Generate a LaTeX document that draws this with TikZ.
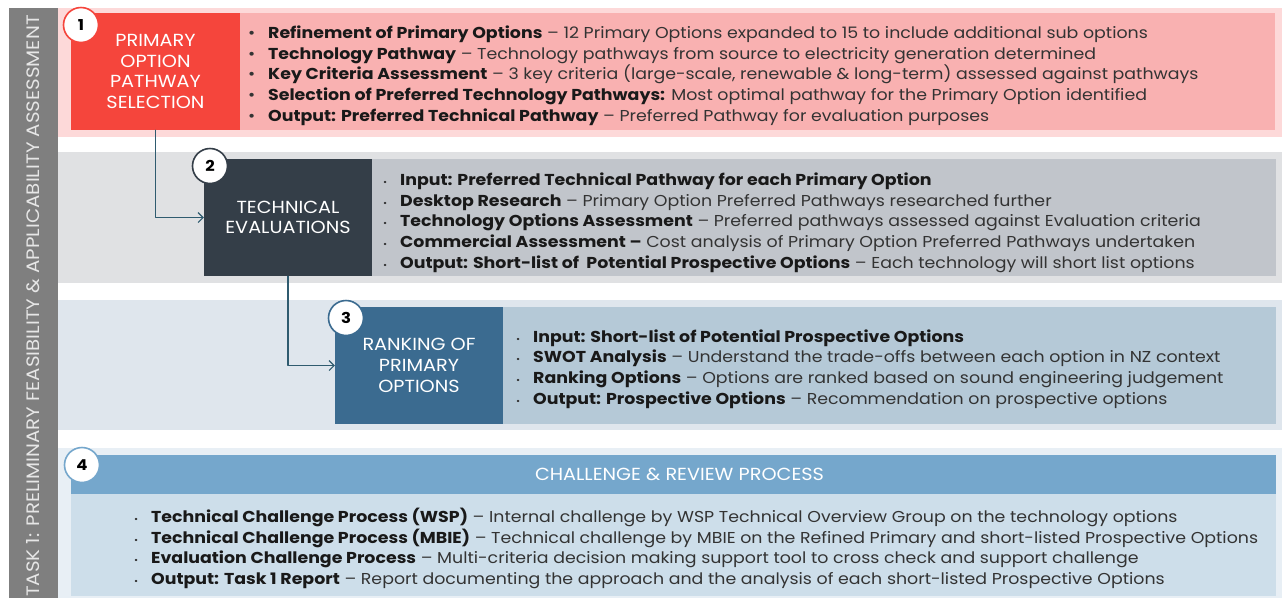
\documentclass[tikz,border=0pt]{standalone}
\usepackage{fontspec}
\setmainfont[FakeStretch=1.1]{Poppins}
\usetikzlibrary{arrows.meta}
\definecolor{sidegray}{HTML}{7F7F7F}
\definecolor{sidetext}{HTML}{E6E6E6}
\definecolor{redband}{HTML}{FDD9D9}
\definecolor{redlist}{HTML}{F9B1B1}
\definecolor{redbox}{HTML}{F5453C}
\definecolor{greyband}{HTML}{E0E1E3}
\definecolor{greylist}{HTML}{C1C5CB}
\definecolor{darkbox}{HTML}{343E48}
\definecolor{blueband}{HTML}{DFE6ED}
\definecolor{bluelist}{HTML}{B5C9D7}
\definecolor{bluebox}{HTML}{3B6B90}
\definecolor{paleband}{HTML}{E8EFF5}
\definecolor{palehead}{HTML}{75A7CC}
\definecolor{palelist}{HTML}{CDDEEA}
\definecolor{flowline}{HTML}{2F5B6F}
\definecolor{bodytext}{HTML}{333333}
\newcommand{\bigbul}[2]{\makebox[20pt][l]{\textbullet}{\color{black!90}\textbf{#1}}#2}
\newcommand{\smallbul}[2]{\makebox[17pt][l]{\fontsize{9}{9}\selectfont\textbullet}{\color{black!90}\textbf{#1}}#2}
\begin{document}
\begin{tikzpicture}[x=1pt, y=-1pt, line cap=round, line join=round,
    stage/.style={text=white, align=center, inner sep=0pt,
      minimum width=168pt, minimum height=117pt, font=\fontsize{17.5}{20.7}\selectfont},
    num/.style={circle, fill=white, line width=1.6pt, minimum size=35pt,
      inner sep=0pt, font=\fontsize{15}{15}\selectfont\bfseries},
    list/.style={anchor=west, align=left, inner sep=0pt, text=bodytext,
      font=\fontsize{15.8}{20.7}\selectfont},
    flow/.style={draw=flowline, line width=1.1pt, -{Straight Barb[length=5pt, width=10pt]}}]
  \useasboundingbox (0,0) rectangle (1282,598);
  \fill[sidegray] (9,8) rectangle (58,598);
  \node[rotate=90, text=sidetext, font=\fontsize{18}{18}\selectfont] (task) at (33.5,306) {TASK 1: PRELIMINARY FEASIBILITY \& APPLICABILITY ASSESSMENT};
  \fill[redband] (58,8) rectangle (1282,137);
  \fill[redlist] (240,13) rectangle (1275,130);
  \fill[greyband] (58,152) rectangle (1282,283);
  \fill[greylist] (372,159) rectangle (1276,276);
  \fill[blueband] (58,300) rectangle (1282,430);
  \fill[bluelist] (503,307) rectangle (1276,424);
  \fill[paleband] (58,448) rectangle (1282,598);
  \fill[palelist] (71,494) rectangle (1276,596);
  \node[stage, fill=redbox, minimum width=169pt] (sel) at (155.5,71.5) {PRIMARY\\OPTION\\PATHWAY\\SELECTION};
  \node[stage, fill=darkbox] (tech) at (288,217.5) {TECHNICAL\\EVALUATIONS};
  \node[stage, fill=bluebox] (rank) at (419,365.5) {RANKING OF\\PRIMARY\\OPTIONS};
  \node[stage, fill=palehead, minimum width=1205pt, minimum height=39pt,
    font=\fontsize{17.5}{17.5}\selectfont] (review) at (673.5,474.5) {\hspace{12pt}CHALLENGE \& REVIEW PROCESS};
  \node[num, draw=redbox] (n1) at (81,25) {1};
  \node[num, draw=darkbox] (n2) at (210,166) {2};
  \node[num, draw=bluebox] (n3) at (346,318) {3};
  \node[num, draw=palehead] (n4) at (82,465) {4};
  \draw[flow] (sel.south) |- (tech.west);
  \draw[flow] (tech.south) |- (rank.west);
  \node[list] (sellist) at (248,75.5) {%
    \bigbul{Refinement of Primary Options}{ -- 12 Primary Options expanded to 15 to include additional sub options}\\
    \bigbul{Technology Pathway}{ -- Technology pathways from source to electricity generation determined}\\
    \bigbul{Key Criteria Assessment}{ -- 3 key criteria (large-scale, renewable \& long-term) assessed against pathways}\\
    \bigbul{Selection of Preferred Technology Pathways:}{ Most optimal pathway for the Primary Option identified}\\
    \bigbul{Output: Preferred Technical Pathway}{ -- Preferred Pathway for evaluation purposes}};
  \node[list] (techlist) at (383,222.5) {%
    \smallbul{Input: Preferred Technical Pathway for each Primary Option}{}\\
    \smallbul{Desktop Research}{ -- Primary Option Preferred Pathways researched further}\\
    \smallbul{Technology Options Assessment}{ -- Preferred pathways assessed against Evaluation criteria}\\
    \smallbul{Commercial Assessment --}{ Cost analysis of Primary Option Preferred Pathways undertaken}\\
    \smallbul{Output: Short-list of\ \ Potential Prospective Options}{ -- Each technology will short list options}};
  \node[list] (ranklist) at (516,369) {%
    \smallbul{Input: Short-list of Potential Prospective Options}{}\\
    \smallbul{SWOT Analysis}{ -- Understand the trade-offs between each option in NZ context}\\
    \smallbul{Ranking Options}{ -- Options are ranked based on sound engineering judgement}\\
    \smallbul{Output: Prospective Options}{ -- Recommendation on prospective options}};
  \node[list] (reviewlist) at (134,548.5) {%
    \smallbul{Technical Challenge Process (WSP)}{ -- Internal challenge by WSP Technical Overview Group on the technology options}\\
    \smallbul{Technical Challenge Process (MBIE)}{ -- Technical challenge by MBIE on the Refined Primary and short-listed Prospective Options}\\
    \smallbul{Evaluation Challenge Process}{ -- Multi-criteria decision making support tool to cross check and support challenge}\\
    \smallbul{Output: Task 1 Report}{ -- Report documenting the approach and the analysis of each short-listed Prospective Options}};
\end{tikzpicture}
\end{document}
